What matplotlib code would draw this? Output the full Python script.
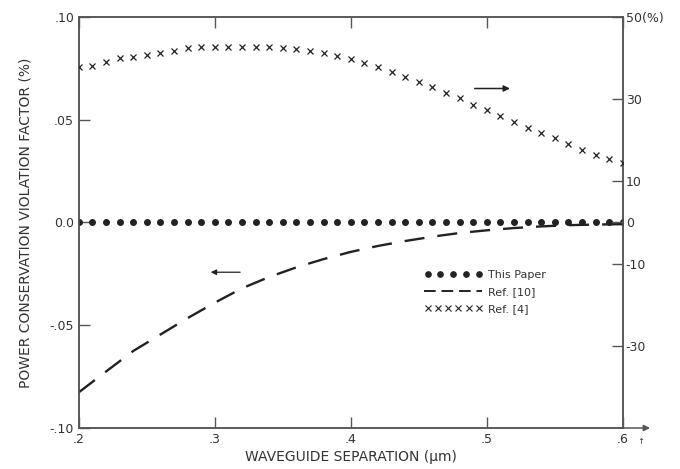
import matplotlib
matplotlib.use("Agg")
import matplotlib.pyplot as plt
from matplotlib.lines import Line2D
from matplotlib.legend_handler import HandlerLine2D

# waveguide separation (um)
sep = [0.20, 0.21, 0.22, 0.23, 0.24, 0.25, 0.26, 0.27, 0.28, 0.29,
       0.30, 0.31, 0.32, 0.33, 0.34, 0.35, 0.36, 0.37, 0.38, 0.39,
       0.40, 0.41, 0.42, 0.43, 0.44, 0.45, 0.46, 0.47, 0.48, 0.49,
       0.50, 0.51, 0.52, 0.53, 0.54, 0.55, 0.56, 0.57, 0.58, 0.59, 0.60]

# This paper: power conservation violation (%), left axis
this_paper = [0.0] * len(sep)

# Ref. [4] (%), right axis
ref4 = [37.8, 38.0, 39.0, 40.0, 40.3, 40.8, 41.3, 41.8, 42.4, 42.7,
        42.8, 42.8, 42.8, 42.7, 42.7, 42.4, 42.1, 41.7, 41.3, 40.5,
        39.7, 38.9, 37.8, 36.7, 35.4, 34.3, 32.9, 31.4, 30.2, 28.7,
        27.3, 25.9, 24.4, 23.0, 21.7, 20.5, 19.1, 17.6, 16.5, 15.5, 14.5]

# Ref. [10] (%), left axis
sep10 = [0.20, 0.22, 0.24, 0.26, 0.28, 0.30, 0.32, 0.34, 0.36, 0.38, 0.40,
         0.42, 0.44, 0.46, 0.48, 0.50, 0.52, 0.54, 0.56, 0.58, 0.60]
ref10 = [-0.0826, -0.0725, -0.0625, -0.0545, -0.0465, -0.0390, -0.0320,
         -0.0265, -0.0218, -0.0178, -0.0143, -0.0114, -0.0090, -0.0069,
         -0.0051, -0.0038, -0.0027, -0.0019, -0.0013, -0.0010, -0.0008]

x_ticks = [0.2, 0.3, 0.4, 0.5, 0.6]
x_labels = [".2", ".3", ".4", ".5", ".6"]
left_ticks = [-0.10, -0.05, 0.0, 0.05, 0.10]
left_labels = ["-.10", "-.05", "0.0", ".05", ".10"]
right_ticks = [-30, -10, 0, 10, 30, 50]
right_labels = ["-30", "-10", "0", "10", "30", "50(%)"]

ink = "#222222"
axis_col = "#555555"
txt_col = "#333333"

fig = plt.figure(figsize=(6.8, 4.69), dpi=100)
ax = fig.add_axes([0.116, 0.0874, 0.800, 0.8764])
ax2 = ax.twinx()

ax.plot(sep, this_paper, linestyle="none", marker="o", ms=4.0,
        color=ink, zorder=3)
ax.plot(sep10, ref10, color=ink, lw=1.7, dashes=(8.5, 5.5), zorder=3)
ax2.plot(sep, ref4, linestyle="none", marker="x", ms=4.5, mew=0.9,
         color=ink, zorder=3)

ax.set_xlim(0.2, 0.6)
ax.set_ylim(-0.10, 0.10)
ax2.set_ylim(-50, 50)

ax.set_xticks(x_ticks)
ax.set_xticklabels(x_labels)
ax.set_yticks(left_ticks)
ax.set_yticklabels(left_labels)
ax2.set_yticks(right_ticks)
ax2.set_yticklabels(right_labels)

ax.tick_params(axis="both", direction="in", length=8, width=1.0,
               color=axis_col, labelsize=9, labelcolor=txt_col,
               top=True, labeltop=False)
ax2.tick_params(axis="y", direction="in", length=8, width=1.0,
                color=axis_col, labelsize=9, labelcolor=txt_col, pad=2)

for a in (ax, ax2):
    for s in a.spines.values():
        s.set_color(axis_col)
        s.set_linewidth(1.1)

ax.set_xlabel("WAVEGUIDE SEPARATION (\u03bcm)", fontsize=10,
              color=txt_col, labelpad=3)
ax.set_ylabel("POWER CONSERVATION VIOLATION FACTOR (%)", fontsize=10,
              color=txt_col, labelpad=12)

# axis arrow past .6
ax.annotate("", xy=(1.055, 0), xytext=(0.99, 0), xycoords="axes fraction",
            arrowprops=dict(arrowstyle="-|>", color=axis_col, lw=1.1,
                            mutation_scale=9))
ax.text(1.033, -0.022, "\u2191", transform=ax.transAxes, fontsize=6,
        color=txt_col, ha="center", va="top")

# direction arrows
ax.annotate("", xy=(0.519, 0.0652), xytext=(0.489, 0.0652),
            arrowprops=dict(arrowstyle="-|>", color=ink, lw=1.1,
                            mutation_scale=9))
ax.annotate("", xy=(0.2949, -0.0242), xytext=(0.3206, -0.0242),
            arrowprops=dict(arrowstyle="-|>", color=ink, lw=0.9,
                            mutation_scale=8))

handles = [
    Line2D([], [], linestyle="none", marker="o", ms=3.8, color=ink),
    Line2D([], [], color=ink, lw=1.4, dashes=(6, 3)),
    Line2D([], [], linestyle="none", marker="x", ms=3.8, mew=0.8, color=ink),
]
labels = ["This Paper", "Ref. [10]", "Ref. [4]"]
leg = ax.legend(handles, labels, loc="upper left",
                bbox_to_anchor=(0.635, 0.385), frameon=False,
                fontsize=8, handlelength=5.2, handletextpad=0.5,
                labelspacing=0.65, borderpad=0, borderaxespad=0,
                handler_map={handles[0]: HandlerLine2D(numpoints=5),
                             handles[2]: HandlerLine2D(numpoints=6)})
for t in leg.get_texts():
    t.set_color(txt_col)

fig.savefig("out.png", dpi=100, facecolor="white")
